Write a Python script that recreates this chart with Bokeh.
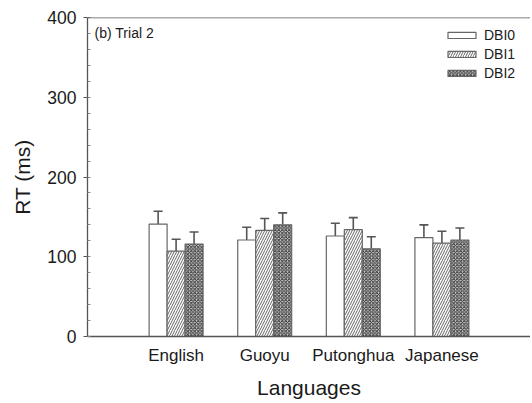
from bokeh.plotting import figure
from bokeh.models import (ColumnDataSource, Range1d, FixedTicker, Whisker, TeeHead,
                          Span, Label, Legend, LegendItem)
from bokeh.embed import file_html
from bokeh.resources import INLINE

# ---- data ----
languages = ["English", "Guoyu", "Putonghua", "Japanese"]
series = ["DBI0", "DBI1", "DBI2"]
dbi0 = [141, 121, 126, 124]
dbi1 = [107, 133, 134, 117]
dbi2 = [116, 140, 110, 121]
err0 = [16, 16, 16, 16]
err1 = [15, 15, 15, 15]
err2 = [15, 15, 15, 15]
y_ticks = [0, 100, 200, 300, 400]

FONT = "Liberation Sans"
TXT = "#1a1a1a"
AX = "#555555"

p = figure(width=530, height=401, output_backend="svg", toolbar_location=None,
           x_range=Range1d(0, 5.0), y_range=Range1d(0, 400),
           min_border_left=87, min_border_right=0, min_border_top=17, min_border_bottom=65)
p.outline_line_color = None
p.grid.visible = False
p.background_fill_color = "white"

bw = 0.203
offsets = [-bw, 0.0, bw]
values = [dbi0, dbi1, dbi2]
errs = [err0, err1, err2]
styles = [
    dict(fill_color="white"),
    dict(fill_color="white", hatch_pattern="right_diagonal_line", hatch_color="#666666",
         hatch_scale=5, hatch_weight=1),
    dict(fill_color="#cccccc", hatch_pattern="diagonal_cross", hatch_color="#333333",
         hatch_scale=3.5, hatch_weight=1),
]

items = []
for k, name in enumerate(series):
    xs = [i + 1 + offsets[k] for i in range(len(languages))]
    tops = values[k]
    src = ColumnDataSource(dict(x=xs, top=tops,
                                upper=[t + e for t, e in zip(tops, errs[k])]))
    r = p.vbar(x="x", top="top", bottom=0, width=bw, source=src,
               line_color="#666666", line_width=1.2, **styles[k])
    items.append(LegendItem(label=name, renderers=[r]))
    w = Whisker(base="x", lower="top", upper="upper", source=src,
                line_color="#555555", line_width=1.6, lower_head=None,
                upper_head=TeeHead(size=9, line_color="#555555", line_width=1.6))
    p.add_layout(w)

# top frame line
p.add_layout(Span(location=400, dimension="width", line_color=AX, line_width=1.3))

# axes
xa = p.xaxis[0]
xa.ticker = FixedTicker(ticks=[i + 1 for i in range(len(languages))])
xa.major_label_overrides = {i + 1: lab for i, lab in enumerate(languages)}
xa.major_tick_out = 0
xa.major_tick_in = 0
xa.minor_tick_out = 0
xa.minor_tick_in = 0
xa.axis_line_color = AX
xa.axis_line_width = 1.3
xa.major_label_text_font = FONT
xa.major_label_text_font_size = "17px"
xa.major_label_text_color = TXT
xa.major_label_standoff = 9
xa.axis_label = "Languages"
xa.axis_label_text_font = FONT
xa.axis_label_text_font_size = "21px"
xa.axis_label_text_font_style = "normal"
xa.axis_label_text_color = TXT
xa.axis_label_standoff = 8

ya = p.yaxis[0]
ya.ticker = FixedTicker(ticks=y_ticks, minor_ticks=list(range(0, 401, 20)))
ya.major_tick_out = 4
ya.major_tick_in = 0
ya.minor_tick_out = 0
ya.minor_tick_in = 3
ya.major_tick_line_color = AX
ya.minor_tick_line_color = "#888888"
ya.axis_line_color = AX
ya.axis_line_width = 1.3
ya.major_label_text_font = FONT
ya.major_label_text_font_size = "17.5px"
ya.major_label_text_color = TXT
ya.major_label_standoff = 7
ya.axis_label = "RT (ms)"
ya.axis_label_text_font = FONT
ya.axis_label_text_font_size = "21px"
ya.axis_label_text_font_style = "normal"
ya.axis_label_text_color = TXT
ya.axis_label_standoff = 10

# panel title
p.add_layout(Label(x=0.08, y=381, text="(b) Trial 2", text_font=FONT,
                   text_font_size="14px", text_color=TXT, text_baseline="middle"))

legend = Legend(items=items, location=(357, 255), glyph_width=35, glyph_height=8,
                label_height=14, spacing=3, label_standoff=5, padding=5, margin=0,
                border_line_color=None, background_fill_alpha=0,
                label_text_font=FONT, label_text_font_size="14px", label_text_color=TXT)
p.add_layout(legend)

open("out.html", "w").write(file_html(p, INLINE))
